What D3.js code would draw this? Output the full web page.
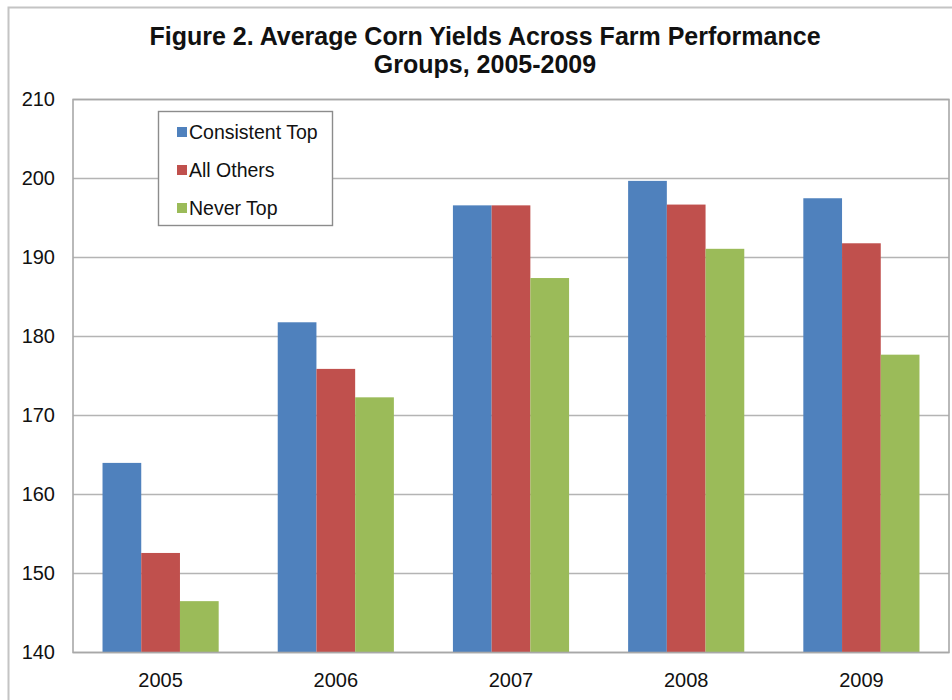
<!DOCTYPE html>
<html>
<head>
<meta charset="utf-8">
<script src="https://cdn.jsdelivr.net/npm/d3@7"></script>
<style>
  html, body { margin: 0; padding: 0; background: #fff; }
  svg { display: block; }
  text { font-family: "Liberation Sans", Arial, sans-serif; fill: #111; }
</style>
</head>
<body>
<svg id="chart" width="952" height="700"></svg>
<script>
// Average corn yields (bu/acre) by farm performance group
const years = ["2005", "2006", "2007", "2008", "2009"];
const groups = ["Consistent Top", "All Others", "Never Top"];
const consistentTop = [164.0, 181.8, 196.6, 199.7, 197.5];
const allOthers     = [152.6, 175.9, 196.6, 196.7, 191.8];
const neverTop      = [146.5, 172.3, 187.4, 191.1, 177.7];
const yTicks = [140, 150, 160, 170, 180, 190, 200, 210];
const colors = ["#4f81bd", "#c0504d", "#9bbb59"];

const seriesValues = [consistentTop, allOthers, neverTop];
const rows = years.map((yr, i) => ({
  year: yr,
  values: groups.map((g, j) => ({ group: g, value: seriesValues[j][i], idx: j }))
}));

const svg = d3.select("#chart");
const plot = { left: 73, top: 99.5, right: 949, bottom: 652.5 };

// Outer chart frame
svg.append("rect")
  .attr("x", 8.5).attr("y", 7.5)
  .attr("width", 960).attr("height", 720)
  .attr("fill", "#fff")
  .attr("stroke", "#c4c4c4").attr("stroke-width", 2);

// Title
const title = svg.append("text")
  .attr("text-anchor", "middle")
  .style("font-weight", "bold")
  .style("font-size", "25px");
title.append("tspan").attr("x", 485).attr("y", 45)
  .text("Figure 2. Average Corn Yields Across Farm Performance");
title.append("tspan").attr("x", 485).attr("y", 73)
  .text("Groups, 2005-2009");

const x0 = d3.scaleBand()
  .domain(years)
  .range([plot.left, plot.right])
  .paddingInner(0.337)
  .paddingOuter(0.337 / 2);

const x1 = d3.scaleBand()
  .domain(groups)
  .range([0, x0.bandwidth()]);

const y = d3.scaleLinear()
  .domain([140, 210])
  .range([plot.bottom, plot.top]);

// Horizontal gridlines
svg.append("g")
  .selectAll("line")
  .data(yTicks)
  .join("line")
  .attr("x1", plot.left).attr("x2", plot.right)
  .attr("y1", d => y(d)).attr("y2", d => y(d))
  .attr("stroke", "#b4b4b4").attr("stroke-width", 1.6);

// Bars
svg.append("g")
  .selectAll("g")
  .data(rows)
  .join("g")
  .attr("transform", d => `translate(${x0(d.year)},0)`)
  .selectAll("rect")
  .data(d => d.values)
  .join("rect")
  .attr("x", d => x1(d.group))
  .attr("y", d => y(d.value))
  .attr("width", x1.bandwidth())
  .attr("height", d => y(140) - y(d.value))
  .attr("fill", d => colors[d.idx]);

// Plot area frame
svg.append("rect")
  .attr("x", plot.left).attr("y", plot.top)
  .attr("width", plot.right - plot.left)
  .attr("height", plot.bottom - plot.top)
  .attr("fill", "none")
  .attr("stroke", "#a8a8a8").attr("stroke-width", 1.6);

// Y axis
const yAxis = svg.append("g")
  .attr("transform", `translate(${plot.left},0)`)
  .call(d3.axisLeft(y).tickValues(yTicks).tickSize(0).tickPadding(18).tickFormat(d3.format("d")));
yAxis.select(".domain").remove();
yAxis.selectAll("text")
  .style("font-size", "20px")
  .style("font-family", "\"Liberation Sans\", Arial, sans-serif")
  .attr("fill", "#111");

// X axis
const xAxis = svg.append("g")
  .attr("transform", `translate(0,${plot.bottom})`)
  .call(d3.axisBottom(x0).tickSize(0).tickPadding(20));
xAxis.select(".domain").remove();
xAxis.selectAll("text")
  .style("font-size", "20px")
  .style("font-family", "\"Liberation Sans\", Arial, sans-serif")
  .attr("fill", "#111");

// Legend
const legend = svg.append("g");
legend.append("rect")
  .attr("x", 158.5).attr("y", 111.5)
  .attr("width", 174).attr("height", 114)
  .attr("fill", "#fff")
  .attr("stroke", "#8c8c8c").attr("stroke-width", 1.4);
const item = legend.selectAll("g.item")
  .data(groups)
  .join("g")
  .attr("class", "item")
  .attr("transform", (d, i) => `translate(177,${132 + i * 38})`);
item.append("rect")
  .attr("x", 0).attr("y", -5)
  .attr("width", 10).attr("height", 10)
  .attr("fill", (d, i) => colors[i]);
item.append("text")
  .attr("x", 12).attr("y", 0)
  .attr("dy", "0.35em")
  .style("font-size", "19.5px")
  .text(d => d);
</script>
</body>
</html>
